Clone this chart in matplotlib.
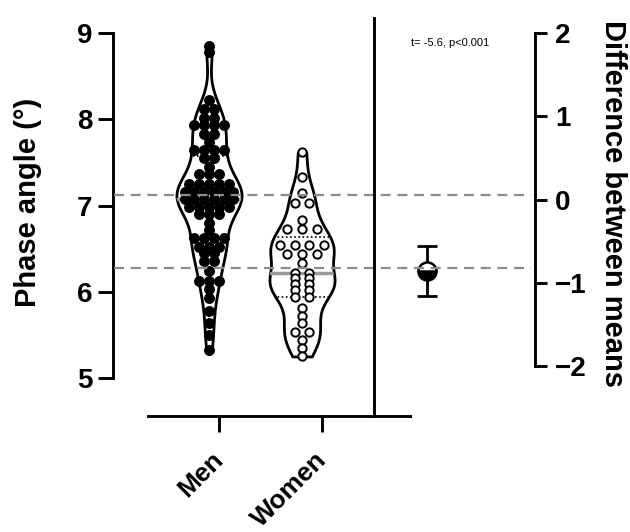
import numpy as np
import matplotlib
matplotlib.use("Agg")
import matplotlib.pyplot as plt
from matplotlib import transforms
from matplotlib.lines import Line2D

plt.rcParams['font.family'] = ['Liberation Sans', 'DejaVu Sans']

# data
groups = ['Men', 'Women']
men = [8.85, 8.78, 8.22, 8.12, 8.12, 8.02, 8.02, 7.93, 7.93, 7.93, 7.93,
       7.83, 7.83, 7.74, 7.64, 7.64, 7.64, 7.64, 7.55, 7.55, 7.45,
       7.36, 7.36, 7.36, 7.25, 7.25, 7.25, 7.25, 7.25,
       7.16, 7.16, 7.16, 7.16, 7.16, 7.16, 7.08, 7.08, 7.08, 7.08, 7.08, 7.08,
       6.98, 6.98, 6.98, 6.98, 6.98, 6.9, 6.9, 6.9, 6.8, 6.72,
       6.62, 6.62, 6.62, 6.62, 6.52, 6.52, 6.52, 6.45, 6.45, 6.36, 6.36,
       6.24, 6.13, 6.13, 6.13, 6.03, 5.93, 5.78, 5.64, 5.5, 5.32]
women = [7.62, 7.33, 7.14, 7.03, 7.03, 6.83, 6.73, 6.73, 6.73,
         6.54, 6.54, 6.54, 6.54, 6.44, 6.44, 6.44, 6.33,
         6.22, 6.22, 6.16, 6.16, 6.09, 6.09, 6.02, 6.02, 5.94, 5.94,
         5.81, 5.72, 5.64, 5.53, 5.53, 5.44, 5.35, 5.25]
group_means = [7.12, 6.27]
mean_diff = -0.85
diff_ci = [-1.15, -0.56]
stat_text = 't= -5.6, p<0.001'


def swarm(vals, step):
    # spread equal values side by side in a row
    vals = np.asarray(vals)
    off = np.zeros(len(vals))
    for v in np.unique(vals):
        idx = np.where(vals == v)[0]
        off[idx] = (np.arange(len(idx)) - (len(idx) - 1) / 2) * step
    return off


W, H = 630, 532
fig = plt.figure(figsize=(6.3, 5.32), dpi=100)


def fx(px):
    return px / W


def fy(py):
    return 1 - py / H


ax1 = fig.add_axes([fx(148), fy(378), fx(374) - fx(148), fy(33) - fy(378)])
ax2 = fig.add_axes([fx(374), fy(378), fx(535) - fx(374), fy(33) - fy(378)])
for ax in (ax1, ax2):
    ax.patch.set_alpha(0)

# violins
parts = ax1.violinplot([men, women], positions=[0, 1], widths=0.7,
                       showextrema=False, bw_method=0.28)
bodies = parts['bodies']
for b in bodies:
    b.set_facecolor('white')
    b.set_edgecolor('black')
    b.set_linewidth(2)
    b.set_alpha(1)
    b.set_zorder(1)

for i, data in enumerate([men, women]):
    clip = bodies[i].get_paths()[0]
    q1, med, q3 = np.percentile(data, [25, 50, 75])
    ln = ax1.hlines(med, i - 0.4, i + 0.4, color='#9a9a9a', lw=2.5, zorder=2)
    ln.set_clip_path(clip, ax1.transData)
    for q in (q1, q3):
        ln = ax1.hlines(q, i - 0.4, i + 0.4, color='black', lw=1.2,
                        linestyles=(0, (1, 1.5)), zorder=2)
        ln.set_clip_path(clip, ax1.transData)

# points
ax1.scatter(0 + swarm(men, 0.105), men, s=62, color='black', zorder=3,
            linewidths=0)
ax1.scatter(1 + swarm(women, 0.16), women, s=36, facecolor='white',
            edgecolor='black', linewidths=1.4, zorder=3)

ax1.set_xlim(-0.656, 1.774)
ax1.set_ylim(5, 9)
ax1.set_yticks([5, 6, 7, 8, 9])
ax1.set_xticks([0.11, 1.22])
ax1.set_xticklabels(groups)
ax1.spines['top'].set_visible(False)
ax1.spines['right'].set_visible(False)
ax1.spines['left'].set_position(('outward', 25))
ax1.spines['bottom'].set_position(('outward', 27.5))
ax1.spines['left'].set_bounds(5, 9)
for s in ('left', 'bottom'):
    ax1.spines[s].set_linewidth(2.1)
ax1.tick_params(axis='y', length=11, width=2.1, pad=4, labelsize=20)
ax1.tick_params(axis='x', length=11.5, width=2.1, pad=17, labelsize=19,
                labelrotation=45)
for t in ax1.get_xticklabels():
    t.set_ha('right')
    t.set_va('center')
    t.set_rotation_mode('anchor')
for t in ax1.get_xticklabels() + ax1.get_yticklabels():
    t.set_fontweight('bold')

# difference panel
ax2.errorbar([0.33], [mean_diff],
             yerr=[[mean_diff - diff_ci[0]], [diff_ci[1] - mean_diff]],
             fmt='none', ecolor='black', elinewidth=2, capsize=7.5,
             capthick=2, zorder=3)
ax2.plot([0.33], [mean_diff], 'o', ms=13, fillstyle='bottom',
         markerfacecolor='black', markerfacecoloralt='white',
         markeredgecolor='black', markeredgewidth=1.8, zorder=4)
ax2.set_xlim(0, 1)
ax2.set_ylim(-2.14, 1.95)
ax2.set_xticks([])
ax2.yaxis.tick_right()
ax2.set_yticks([-2, -1, 0, 1, 2])
for s in ('top', 'bottom', 'left'):
    ax2.spines[s].set_visible(False)
ax2.spines['right'].set_bounds(-2, 2)
ax2.spines['right'].set_linewidth(2.1)
ax2.tick_params(axis='y', length=8.6, width=2.1, pad=6, labelsize=20)
for t in ax2.get_yticklabels():
    t.set_fontweight('bold')

# dashed mean lines across both panels
tr = transforms.blended_transform_factory(fig.transFigure, ax1.transData)
for m in group_means:
    fig.add_artist(Line2D([fx(114), fx(531)], [m, m], transform=tr,
                          color='#8c8c8c', lw=1.6, ls=(0, (4.5, 3)),
                          zorder=2))

# separator and bottom baseline
fig.add_artist(Line2D([fx(374), fx(374)], [fy(18), fy(416)], color='black',
                      lw=2.1))
fig.add_artist(Line2D([fx(374), fx(410)], [fy(416), fy(416)], color='black',
                      lw=2.1))

fig.text(fx(411), fy(43), stat_text, fontsize=8, va='center', ha='left')
fig.text(fx(28), fy(202), 'Phase angle (°)', rotation=90, fontsize=21,
         fontweight='bold', ha='center', va='center')
fig.text(fx(613), fy(203), 'Difference between means', rotation=270,
         fontsize=21, fontweight='bold', ha='center', va='center')

fig.savefig('out.png', dpi=100, facecolor='white')
